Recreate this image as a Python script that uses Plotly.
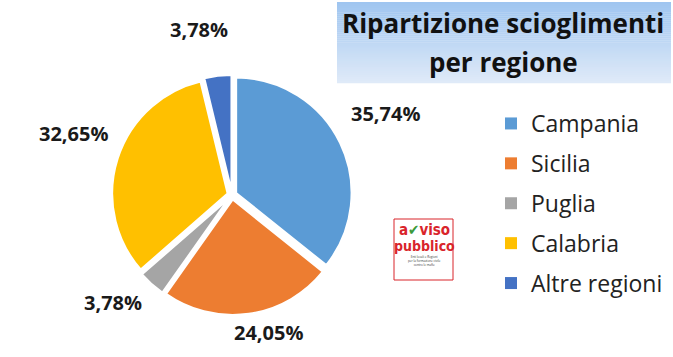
import plotly.graph_objects as go

categories = ["Campania", "Sicilia", "Puglia", "Calabria", "Altre regioni"]
values = [35.74, 24.05, 3.78, 32.65, 3.78]
colors = ["#5B9BD5", "#ED7D31", "#A5A5A5", "#FFC000", "#4472C4"]
title_lines = ["Ripartizione scioglimenti", "per regione"]

FONT = "Open Sans"
W, H = 673, 357

fig = go.Figure()
fig.add_trace(go.Pie(
    labels=categories, values=values, sort=False, direction="clockwise", rotation=0,
    marker=dict(colors=colors, line=dict(color="white", width=2)),
    pull=[0.04] * 5, textinfo="none", hoverinfo="label+percent",
    domain=dict(x=[(232 - 120) / W, (232 + 120) / W], y=[(357 - 195 - 120) / H, (357 - 195 + 120) / H]),
    showlegend=False,
))
# legend entries
for name, col in zip(categories, colors):
    fig.add_trace(go.Scatter(x=[None], y=[None], mode="markers", name=name, legendgroup=name,
                             marker=dict(symbol="square", size=12, color=col), showlegend=True,
                             hoverinfo="skip"))

def fmt(v):
    return f"{v:.2f}".replace(".", ",") + "%"

# label positions (pixels from top-left)
label_pos = [(385, 113), (268, 332), (113, 302), (73, 133), (199, 29)]
annotations = []
for v, (px, py) in zip(values, label_pos):
    annotations.append(dict(x=px / W, y=1 - py / H, xref="paper", yref="paper", text=f"<b>{fmt(v)}</b>",
                            showarrow=False, font=dict(family=FONT, size=20, color="#1a1a1a"),
                            xanchor="center", yanchor="middle"))

# title box with gradient (stacked stripes)
shapes = []
x0, x1, y0, y1 = 337, 671, 2, 83
n = 40
top = (0x9F, 0xC5, 0xF0)
bot = (0xDF, 0xEA, 0xF8)
for i in range(n):
    t = i / (n - 1)
    c = tuple(round(top[k] + (bot[k] - top[k]) * t) for k in range(3))
    ya = y0 + (y1 - y0) * i / n
    yb = y0 + (y1 - y0) * (i + 1) / n
    shapes.append(dict(type="rect", xref="paper", yref="paper", x0=x0 / W, x1=x1 / W,
                       y0=1 - yb / H - 0.001, y1=1 - ya / H, line=dict(width=0),
                       fillcolor="rgb(%d,%d,%d)" % c, layer="below"))
for line, py in zip(title_lines, [23, 62]):
    annotations.append(dict(x=503 / W, y=1 - py / H, xref="paper", yref="paper", text=f"<b>{line}</b>",
                            showarrow=False, font=dict(family=FONT, size=26, color="#111111"),
                            xanchor="center", yanchor="middle"))

# logo
shapes.append(dict(type="rect", xref="paper", yref="paper", x0=394 / W, x1=453 / W,
                   y0=1 - 280 / H, y1=1 - 219 / H, line=dict(color="#d9242b", width=1), fillcolor="white"))
annotations.append(dict(x=424 / W, y=1 - 241 / H, xref="paper", yref="paper",
                        text="<b>a<span style='color:#3a9a3a'>✔</span>viso</b>", showarrow=False,
                        font=dict(family="DejaVu Sans Condensed", size=15, color="#d9242b")))
annotations.append(dict(x=424 / W, y=1 - 256 / H, xref="paper", yref="paper",
                        text="<b>pubblico</b>", showarrow=False,
                        font=dict(family="DejaVu Sans Condensed", size=14, color="#d9242b")))
annotations.append(dict(x=424 / W, y=1 - 269 / H, xref="paper", yref="paper",
                        text="Enti locali e Regioni<br>per la formazione civile<br>contro le mafie", showarrow=False,
                        font=dict(family=FONT, size=3, color="#333")))

fig.update_layout(
    width=W, height=H, margin=dict(l=0, r=0, t=0, b=0),
    paper_bgcolor="white", plot_bgcolor="white",
    font=dict(family=FONT),
    xaxis=dict(visible=False), yaxis=dict(visible=False),
    legend=dict(x=491 / W, y=1 - 102 / H, xanchor="left", yanchor="top", tracegroupgap=7,
                font=dict(family=FONT, size=23, color="#222"), itemwidth=30),
    shapes=shapes, annotations=annotations,
)
fig.write_html("out.html", config={"displayModeBar": False},
               post_script="document.body.style.margin='0';document.body.style.overflow='hidden';")
